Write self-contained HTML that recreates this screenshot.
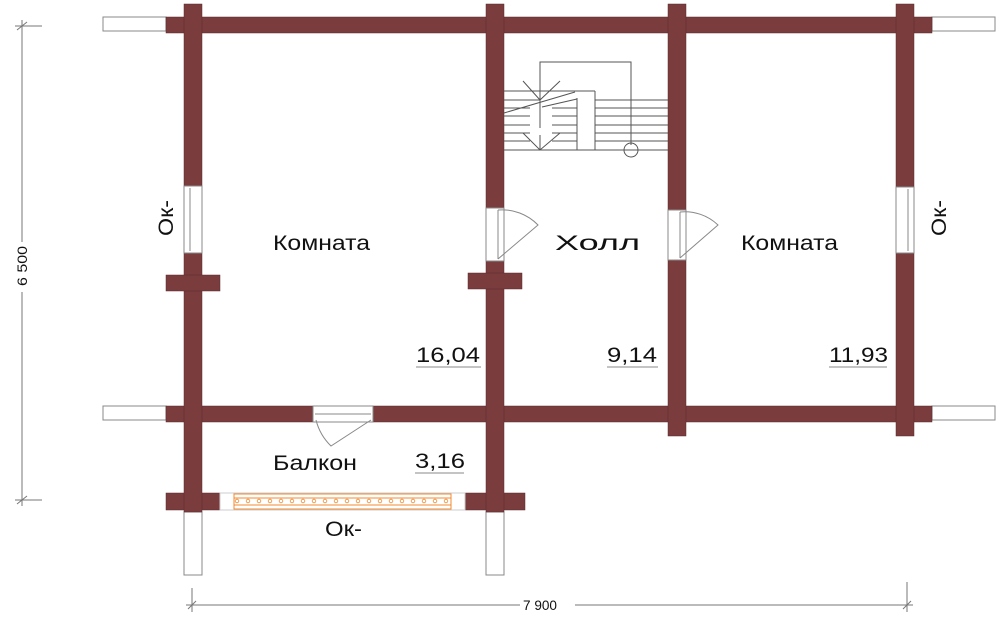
<!DOCTYPE html>
<html><head><meta charset="utf-8"><style>html,body{margin:0;padding:0;background:#fff}svg{display:block}</style></head>
<body>
<svg width="1000" height="619" viewBox="0 0 1000 619" xmlns="http://www.w3.org/2000/svg" font-family="Liberation Sans, sans-serif">
<g fill="#fff" stroke="#888" stroke-width="1">
<rect x="103" y="17" width="63" height="14"/>
<rect x="932" y="17" width="63" height="14"/>
<rect x="103" y="406" width="63" height="14"/>
<rect x="932" y="406" width="63" height="14"/>
<rect x="184" y="512" width="18" height="63"/>
<rect x="486" y="512" width="18" height="63"/>
</g>
<g fill="#7b3c3e" stroke="#5a2a2a" stroke-width="0.5">
<rect x="166" y="17" width="766" height="16"/>
<rect x="166" y="406" width="147" height="16"/>
<rect x="373" y="406" width="559" height="16"/>
<rect x="166" y="493" width="54" height="17"/>
<rect x="465" y="493" width="60" height="17"/>
<rect x="184" y="4" width="18" height="182"/>
<rect x="184" y="253" width="18" height="259"/>
<rect x="166" y="275" width="54" height="16"/>
<rect x="486" y="4" width="18" height="204"/>
<rect x="486" y="261" width="18" height="251"/>
<rect x="468" y="273" width="54" height="16"/>
<rect x="668" y="4" width="18" height="206"/>
<rect x="668" y="260" width="18" height="176"/>
<rect x="896" y="4" width="18" height="183"/>
<rect x="896" y="253" width="18" height="183"/>
</g>
<g fill="#fff" stroke="#888" stroke-width="1">
<rect x="184" y="186" width="18" height="67"/><line x1="190" y1="188" x2="190" y2="251"/><line x1="202" y1="188" x2="202" y2="251"/>
<rect x="896" y="187" width="18" height="66"/><line x1="908" y1="189" x2="908" y2="251"/>
<rect x="486" y="208" width="18" height="53"/><line x1="498" y1="210" x2="498" y2="259"/>
<path d="M498 210 A50 50 0 0 1 538 225 L498 259" fill="none"/>
<rect x="668" y="210" width="18" height="50"/><line x1="680" y1="212" x2="680" y2="258"/>
<path d="M680 212 A48 48 0 0 1 718 225 L680 258" fill="none"/>
<rect x="313" y="406" width="60" height="16"/><line x1="315" y1="414" x2="371" y2="414"/>
<path d="M316 420 A55 55 0 0 0 331 446 L371 420" fill="none"/>
</g>
<rect x="220" y="493" width="245" height="17" fill="#fff" stroke="#ccc"/>
<rect x="234" y="494" width="217" height="15" fill="none" stroke="#f08a30" stroke-width="1"/>
<line x1="234" y1="498" x2="451" y2="498" stroke="#f08a30"/>
<line x1="234" y1="505" x2="451" y2="505" stroke="#f08a30"/>
<g fill="#fff" stroke="#f08a30" stroke-width="0.8">
<circle cx="237" cy="501" r="1.8"/><circle cx="248" cy="501" r="1.8"/><circle cx="259" cy="501" r="1.8"/><circle cx="270" cy="501" r="1.8"/><circle cx="281" cy="501" r="1.8"/><circle cx="292" cy="501" r="1.8"/><circle cx="303" cy="501" r="1.8"/><circle cx="314" cy="501" r="1.8"/><circle cx="325" cy="501" r="1.8"/><circle cx="336" cy="501" r="1.8"/><circle cx="347" cy="501" r="1.8"/><circle cx="358" cy="501" r="1.8"/><circle cx="369" cy="501" r="1.8"/><circle cx="380" cy="501" r="1.8"/><circle cx="391" cy="501" r="1.8"/><circle cx="402" cy="501" r="1.8"/><circle cx="413" cy="501" r="1.8"/><circle cx="424" cy="501" r="1.8"/><circle cx="435" cy="501" r="1.8"/><circle cx="446" cy="501" r="1.8"/>
</g>
<g stroke="#555" stroke-width="1" fill="none">
<polyline points="540,128 540,62 631,62 631,145"/>
<circle cx="631" cy="150" r="7"/>
<line x1="504" y1="91" x2="595" y2="91"/>
<line x1="595" y1="91" x2="595" y2="150"/>
<line x1="577" y1="98" x2="577" y2="150"/>
<line x1="504" y1="150" x2="668" y2="150"/>
<line x1="595" y1="100" x2="668" y2="100"/>
<line x1="595" y1="108" x2="668" y2="108"/>
<line x1="595" y1="116" x2="668" y2="116"/>
<line x1="595" y1="125" x2="668" y2="125"/>
<line x1="595" y1="133" x2="668" y2="133"/>
<line x1="595" y1="141" x2="668" y2="141"/>
<line x1="504" y1="100" x2="540" y2="100"/>
<line x1="504" y1="108" x2="530" y2="108"/>
<line x1="504" y1="116" x2="530" y2="116"/>
<line x1="504" y1="125" x2="530" y2="125"/>
<line x1="504" y1="133" x2="530" y2="133"/>
<line x1="504" y1="141" x2="530" y2="141"/>
<line x1="552" y1="108" x2="577" y2="108"/>
<line x1="552" y1="116" x2="577" y2="116"/>
<line x1="552" y1="125" x2="577" y2="125"/>
<line x1="552" y1="133" x2="577" y2="133"/>
<line x1="552" y1="141" x2="577" y2="141"/>
<line x1="504" y1="113" x2="575" y2="92"/>
<line x1="542" y1="107" x2="577" y2="99"/>
<line x1="540" y1="135" x2="540" y2="150"/>
<line x1="540" y1="107" x2="540" y2="128"/>
<polyline points="523,81 540,100 560,81"/>
<polyline points="523,133 540,150 560,133"/>
</g>
<g font-size="21" fill="#111" lengthAdjust="spacingAndGlyphs">
<text x="273" y="250" textLength="97" lengthAdjust="spacingAndGlyphs">Комната</text>
<text x="555" y="250" textLength="85" lengthAdjust="spacingAndGlyphs">Холл</text>
<text x="741" y="250" textLength="97" lengthAdjust="spacingAndGlyphs">Комната</text>
<text x="273" y="470" textLength="84" lengthAdjust="spacingAndGlyphs">Балкон</text>
<text x="325" y="536" textLength="37" lengthAdjust="spacingAndGlyphs">Ок-</text>
<text x="416" y="362" textLength="64" lengthAdjust="spacingAndGlyphs">16,04</text>
<text x="607" y="362" textLength="50" lengthAdjust="spacingAndGlyphs">9,14</text>
<text x="829" y="362" textLength="59" lengthAdjust="spacingAndGlyphs">11,93</text>
<text x="415" y="468" textLength="50" lengthAdjust="spacingAndGlyphs">3,16</text>
<text transform="translate(173,236) rotate(-90)" textLength="36" lengthAdjust="spacingAndGlyphs">Ок-</text>
<text transform="translate(946,236) rotate(-90)" textLength="36" lengthAdjust="spacingAndGlyphs">Ок-</text>
</g>
<g stroke="#888" stroke-width="1">
<line x1="416" y1="367" x2="481" y2="367"/>
<line x1="607" y1="367" x2="658" y2="367"/>
<line x1="829" y1="367" x2="887" y2="367"/>
<line x1="415" y1="473" x2="464" y2="473"/>
</g>
<g stroke="#777" stroke-width="1">
<line x1="15" y1="26" x2="42" y2="26"/>
<line x1="15" y1="500" x2="42" y2="500"/>
<line x1="22" y1="20" x2="22" y2="242"/>
<line x1="22" y1="292" x2="22" y2="506"/>
<line x1="17" y1="30" x2="27" y2="22"/>
<line x1="17" y1="504" x2="27" y2="496"/>
<line x1="192" y1="588" x2="192" y2="612"/>
<line x1="907" y1="582" x2="907" y2="612"/>
<line x1="186" y1="605" x2="520" y2="605"/>
<line x1="575" y1="605" x2="913" y2="605"/>
<line x1="188" y1="609" x2="196" y2="601"/>
<line x1="903" y1="609" x2="911" y2="601"/>
</g>
<g font-size="14" fill="#111">
<text x="523" y="610" textLength="34" lengthAdjust="spacingAndGlyphs">7 900</text>
<text transform="translate(27,286) rotate(-90)" textLength="40" lengthAdjust="spacingAndGlyphs">6 500</text>
</g>
</svg>
</body></html>
